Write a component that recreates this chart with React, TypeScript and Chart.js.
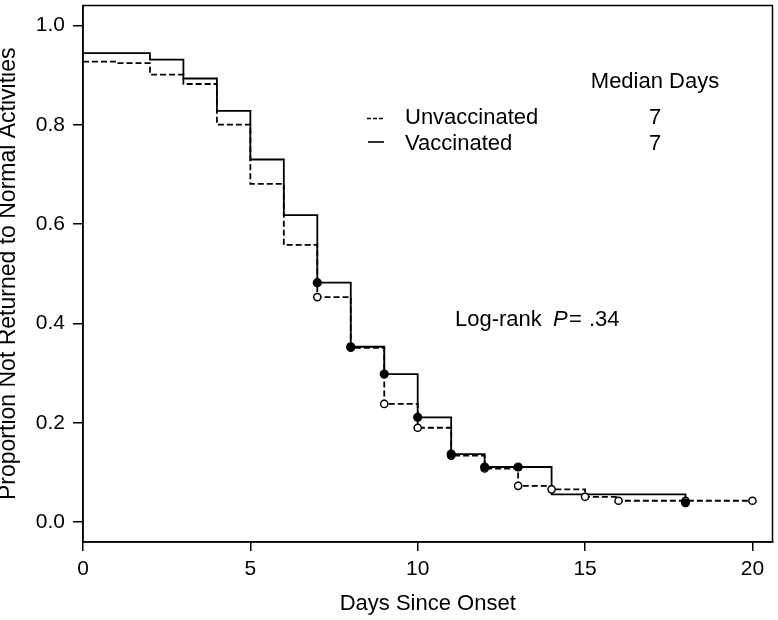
import React, { useEffect, useRef } from 'react';
import { Chart, registerables } from 'chart.js';

Chart.register(...registerables);

// Kaplan–Meier step data (value holds from the given day onward)
const vaccinatedDays = [0, 2, 3, 4, 5, 6, 7, 8, 9, 10, 11, 12, 14, 18];
const vaccinatedSurv = [0.944, 0.931, 0.893, 0.828, 0.730, 0.618, 0.482, 0.353, 0.298, 0.211, 0.137, 0.111, 0.056, 0.039];

const unvaccinatedDays = [0, 1, 2, 3, 4, 5, 6, 7, 8, 9, 10, 11, 12, 13, 14, 15, 16, 20];
const unvaccinatedSurv = [0.927, 0.924, 0.901, 0.882, 0.800, 0.681, 0.558, 0.453, 0.351, 0.238, 0.190, 0.134, 0.108, 0.073, 0.066, 0.051, 0.043, 0.043];

// Censor marks (days)
const vaccinatedCensorDays = [7, 8, 9, 10, 11, 12, 13, 18];
const unvaccinatedCensorDays = [7, 8, 9, 10, 11, 12, 13, 14, 15, 16, 18, 20];

// Axis ticks
const xTicks = [0, 5, 10, 15, 20];
const yTicks = [0, 0.2, 0.4, 0.6, 0.8, 1.0];

// Legend / annotation texts
const groupLabels = ['Unvaccinated', 'Vaccinated'];
const medianDays = ['7', '7'];
const logRankP = '.34';

const FONT = '"Liberation Sans", Arial, Helvetica, sans-serif';

function stepValue(days: number[], surv: number[], t: number): number {
  let v = surv[0];
  for (let i = 0; i < days.length; i++) if (days[i] <= t) v = surv[i];
  return v;
}

const annotationPlugin = {
  id: 'kmAnnotations',
  afterDraw(chart: any) {
    const { ctx, chartArea: a } = chart;
    ctx.save();
    // box
    ctx.strokeStyle = '#000';
    ctx.lineWidth = 1.5;
    ctx.setLineDash([]);
    ctx.strokeRect(a.left, a.top, a.right - a.left, a.bottom - a.top);

    ctx.fillStyle = '#000';
    ctx.font = `22px ${FONT}`;
    ctx.textBaseline = 'alphabetic';

    // legend header
    ctx.textAlign = 'center';
    ctx.fillText('Median Days', 655, 88);
    ctx.fillText(medianDays[0], 655, 124);
    ctx.fillText(medianDays[1], 655, 150);

    ctx.textAlign = 'left';
    ctx.fillText(groupLabels[0], 405, 124);
    ctx.fillText(groupLabels[1], 405, 150);

    // legend line samples
    ctx.lineWidth = 1.6;
    ctx.setLineDash([4, 2]);
    ctx.beginPath();
    ctx.moveTo(367, 118.5);
    ctx.lineTo(383, 118.5);
    ctx.stroke();
    ctx.setLineDash([]);
    ctx.beginPath();
    ctx.moveTo(368, 142);
    ctx.lineTo(384, 142);
    ctx.stroke();

    // log-rank annotation
    ctx.fillText('Log-rank', 455, 326);
    ctx.font = `italic 22px ${FONT}`;
    ctx.fillText('P', 553, 326);
    ctx.font = `22px ${FONT}`;
    ctx.fillText('=', 569, 326);
    ctx.fillText(logRankP, 589, 326);
    ctx.restore();
  },
};

export default function App() {
  const ref = useRef<HTMLCanvasElement>(null);

  useEffect(() => {
    const vaccLine = vaccinatedDays.map((d, i) => ({ x: d, y: vaccinatedSurv[i] }));
    const unvLine = unvaccinatedDays.map((d, i) => ({ x: d, y: unvaccinatedSurv[i] }));
    const vaccCensor = vaccinatedCensorDays.map((d) => ({ x: d, y: stepValue(vaccinatedDays, vaccinatedSurv, d) }));
    const unvCensor = unvaccinatedCensorDays.map((d) => ({ x: d, y: stepValue(unvaccinatedDays, unvaccinatedSurv, d) }));

    const chart = new Chart(ref.current as HTMLCanvasElement, {
      type: 'line',
      data: {
        datasets: [
          {
            label: 'Vaccinated censored',
            data: vaccCensor,
            showLine: false,
            pointRadius: 4.6,
            pointBackgroundColor: '#000',
            pointBorderColor: '#000',
            pointBorderWidth: 0,
          },
          {
            label: 'Unvaccinated censored',
            data: unvCensor,
            showLine: false,
            pointRadius: 3.6,
            pointBackgroundColor: '#fff',
            pointBorderColor: '#000',
            pointBorderWidth: 1.5,
          },
          {
            label: 'Vaccinated',
            data: vaccLine,
            stepped: true,
            borderColor: '#000',
            borderWidth: 1.8,
            pointRadius: 0,
            fill: false,
          },
          {
            label: 'Unvaccinated',
            data: unvLine,
            stepped: true,
            borderColor: '#000',
            borderWidth: 1.8,
            borderDash: [6, 3],
            pointRadius: 0,
            fill: false,
          },
        ],
      },
      options: {
        responsive: false,
        animation: false,
        layout: { padding: { top: 3, right: 5, left: 0, bottom: 0 } },
        plugins: { legend: { display: false }, tooltip: { enabled: false } },
        scales: {
          x: {
            type: 'linear',
            min: 0,
            max: 20.6,
            afterFit: (s: any) => {
              s.height = 78;
              s.paddingLeft = 0;
              s.paddingRight = 0;
            },
            afterBuildTicks: (s: any) => {
              s.ticks = xTicks.map((v) => ({ value: v }));
            },
            grid: {
              display: true,
              drawOnChartArea: false,
              drawTicks: true,
              tickLength: 9,
              color: '#000',
              lineWidth: 1.5,
            },
            border: { display: true, color: '#000', width: 1.5 },
            ticks: {
              color: '#000',
              font: { family: FONT, size: 21 },
              padding: 6,
              maxRotation: 0,
              autoSkip: false,
              callback: (v: any) => String(v),
            },
            title: {
              display: true,
              text: 'Days Since Onset',
              color: '#000',
              font: { family: FONT, size: 22 },
              padding: { top: 0, bottom: 3 },
            },
          },
          y: {
            type: 'linear',
            min: -0.04,
            max: 1.04,
            afterFit: (s: any) => {
              s.width = 83;
              s.paddingTop = 0;
              s.paddingBottom = 0;
            },
            afterBuildTicks: (s: any) => {
              s.ticks = yTicks.map((v) => ({ value: v }));
            },
            grid: {
              display: true,
              drawOnChartArea: false,
              drawTicks: true,
              tickLength: 10,
              color: '#000',
              lineWidth: 1.5,
            },
            border: { display: true, color: '#000', width: 1.5 },
            ticks: {
              color: '#000',
              font: { family: FONT, size: 21 },
              padding: 8,
              autoSkip: false,
              callback: (v: any) => Number(v).toFixed(1),
            },
            title: {
              display: true,
              text: 'Proportion Not Returned to Normal Activities',
              color: '#000',
              font: { family: FONT, size: 23, lineHeight: 0.75 },
              padding: { top: 0, bottom: 0 },
            },
          },
        },
      },
      plugins: [annotationPlugin],
    });
    return () => chart.destroy();
  }, []);

  return (
    <div style={{ position: 'absolute', left: 0, top: 0, width: 778, height: 620, background: '#fff' }}>
      <canvas ref={ref} width={778} height={620} style={{ display: 'block' }} />
    </div>
  );
}
